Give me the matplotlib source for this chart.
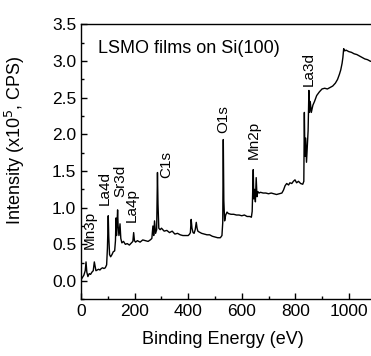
import matplotlib
matplotlib.use("Agg")
import matplotlib.pyplot as plt
from matplotlib.ticker import MultipleLocator

plt.rcParams['font.family'] = ['Liberation Sans', 'DejaVu Sans']

energy = [0, 5, 10, 15, 18, 21, 25, 30, 35, 40, 45, 49, 52, 55, 60, 65, 70, 75, 80, 85,
          90, 95, 98, 101, 103, 106, 110, 115, 120, 125, 128, 130, 132, 134, 136, 138,
          141, 145, 148, 152, 158, 165, 172, 180, 188, 193, 196, 199, 203, 210, 220,
          230, 240, 250, 258, 264, 268, 271, 274, 278, 282, 285, 287, 290, 295, 300,
          310, 320, 330, 340, 350, 360, 370, 380, 390, 400, 405, 408, 411, 414, 418,
          422, 426, 430, 433, 436, 440, 450, 460, 470, 480, 490, 500, 510, 520, 526,
          529, 531, 533, 536, 540, 545, 550, 560, 570, 580, 590, 600, 610, 620, 630,
          636, 639, 641, 643, 645, 648, 651, 654, 657, 660, 665, 670, 680, 690, 700,
          710, 720, 730, 740, 750, 756, 762, 768, 775, 780, 787, 793, 799, 805, 812,
          820, 828, 832, 834, 836, 839, 842, 845, 848, 851, 853, 856, 860, 866, 872,
          880, 890, 900, 910, 920, 930, 940, 950, 958, 965, 970, 975, 978, 981, 985,
          990, 1000, 1010, 1020, 1030, 1040, 1050, 1060, 1070, 1080, 1090, 1100]

intensity = [0.02, 0.05, 0.08, 0.14, 0.26, 0.12, 0.06, 0.10, 0.09, 0.12, 0.14, 0.26, 0.20,
             0.14, 0.15, 0.16, 0.15, 0.17, 0.18, 0.17, 0.18, 0.22, 0.45, 0.89, 0.60, 0.36,
             0.33, 0.36, 0.40, 0.41, 0.55, 0.86, 0.62, 0.80, 0.97, 0.75, 0.62, 0.78, 0.58,
             0.52, 0.54, 0.50, 0.51, 0.49, 0.52, 0.54, 0.66, 0.55, 0.53, 0.55, 0.53, 0.56,
             0.55, 0.54, 0.56, 0.58, 0.75, 0.62, 0.82, 0.65, 0.70, 1.48, 1.05, 0.72, 0.70,
             0.72, 0.68, 0.69, 0.66, 0.68, 0.64, 0.65, 0.63, 0.62, 0.62, 0.62, 0.64, 0.66,
             0.84, 0.72, 0.66, 0.65, 0.70, 0.80, 0.72, 0.68, 0.67, 0.65, 0.64, 0.63, 0.63,
             0.61, 0.60, 0.59, 0.59, 0.62, 0.80, 1.93, 1.10, 0.82, 0.90, 0.94, 0.92, 0.91,
             0.91, 0.90, 0.90, 0.89, 0.90, 0.88, 0.88, 0.87, 0.95, 1.22, 1.52, 1.12, 1.25,
             1.08, 1.41, 1.15, 1.22, 1.20, 1.21, 1.20, 1.20, 1.19, 1.20, 1.19, 1.18, 1.19,
             1.20, 1.24, 1.30, 1.33, 1.31, 1.34, 1.33, 1.36, 1.38, 1.34, 1.36, 1.33, 1.32,
             1.36, 2.30, 1.70, 1.95, 1.62, 1.85, 2.05, 2.60, 2.30, 2.45, 2.30, 2.40, 2.45,
             2.53, 2.58, 2.62, 2.63, 2.62, 2.64, 2.66, 2.70, 2.75, 2.82, 2.88, 2.97, 3.05,
             3.17, 3.14, 3.15, 3.13, 3.12, 3.10, 3.09, 3.07, 3.05, 3.03, 3.02, 3.00, 2.99,
             2.97]

peak_names = ["Mn3p", "La4d", "Sr3d", "La4p", "C1s", "O1s", "Mn2p", "La3d"]
peak_label_x = [33, 89, 145, 190, 318, 531, 643, 849]
peak_label_y = [0.43, 1.03, 1.14, 0.80, 1.41, 2.02, 1.66, 2.66]

fig = plt.figure(figsize=(3.71, 3.56), dpi=100)
ax = fig.add_axes([0.2189, 0.1593, 0.7933, 0.7719])
ax.plot(energy, intensity, color='black', lw=1.0)

ax.set_xlim(0, 1100)
ax.set_ylim(-0.25, 3.5)
ax.xaxis.set_major_locator(MultipleLocator(200))
ax.xaxis.set_minor_locator(MultipleLocator(100))
ax.yaxis.set_major_locator(MultipleLocator(0.5))
ax.yaxis.set_minor_locator(MultipleLocator(0.25))
ax.yaxis.set_major_formatter(matplotlib.ticker.FormatStrFormatter('%.1f'))
ax.tick_params(which='both', direction='in', labelsize=12.5, top=False, right=False)
ax.tick_params(which='major', length=4, width=1)
ax.tick_params(which='minor', length=2, width=1)
for s in ax.spines.values():
    s.set_linewidth(1.0)

ax.set_xlabel("Binding Energy (eV)", fontsize=13)
ax.xaxis.set_label_coords(0.48, -0.115)
ax.set_ylabel("Intensity (x10$^5$, CPS)", fontsize=13)
ax.yaxis.set_label_coords(-0.185, 0.58)

ax.text(64, 3.17, "LSMO films on Si(100)", fontsize=13, va='center', ha='left')
for name, x, y in zip(peak_names, peak_label_x, peak_label_y):
    ax.text(x, y, name, rotation=90, fontsize=11, ha='center', va='bottom')

fig.savefig("out.png", dpi=100)
